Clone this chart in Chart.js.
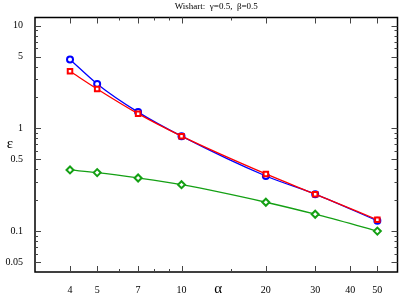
<!DOCTYPE html>
<html><head><meta charset="utf-8">
<script src="https://cdn.jsdelivr.net/npm/chart.js@4"></script>
<style>html,body{margin:0;padding:0;background:#fff;}canvas{display:block;}</style>
</head><body>
<canvas id="c" width="399" height="295"></canvas>
<script>
const alphaVals = [4, 5, 7, 10, 20, 30, 50];
const blueCircles = [4.68, 2.71, 1.44, 0.84, 0.344, 0.229, 0.126];
const redSquares = [3.6, 2.42, 1.39, 0.84, 0.36, 0.229, 0.129];
const greenDiamonds = [0.394, 0.371, 0.329, 0.283, 0.191, 0.146, 0.100];
const xMajorTicks = [4, 5, 7, 10, 20, 30, 40, 50];
const xMinorTicks = [6, 8, 9, 15];
const yMajorTicks = [0.05, 0.1, 0.5, 1, 5, 10];
const yMinorTicks = [0.06, 0.07, 0.08, 0.09, 0.2, 0.3, 0.4, 0.6, 0.7, 0.8, 0.9, 2, 3, 4, 6, 7, 8, 9];
const titleText = 'Wishart:  \u03b3=0.5,  \u03b2=0.5';

function pts(ys){ return alphaVals.map((x,i)=>({x:x,y:ys[i]})); }
const serif = '"Liberation Serif", "DejaVu Serif", serif';
const AREA_RIGHT = 397.5;

const frame = {
  id:'frame',
  afterLayout(chart){
    const a = chart.chartArea, xs = chart.scales.x;
    a.right = AREA_RIGHT; a.width = a.right - a.left;
    xs.right = AREA_RIGHT; xs.width = xs.right - xs.left;
    xs.configure();
  },
  afterDraw(chart){
    const ctx = chart.ctx, a = chart.chartArea;
    const xs = chart.scales.x, ys = chart.scales.y;
    ctx.save();
    ctx.strokeStyle = '#000'; ctx.lineWidth = 1.5;
    ctx.strokeRect(a.left, a.top, a.right-a.left, a.bottom-a.top);
    ctx.strokeStyle = '#444'; ctx.lineWidth = 1;
    const tick = (v, len, isX) => {
      if (isX) {
        const p = Math.round(xs.getPixelForValue(v)) + 0.5;
        ctx.beginPath(); ctx.moveTo(p, a.bottom); ctx.lineTo(p, a.bottom-len);
        ctx.moveTo(p, a.top); ctx.lineTo(p, a.top+len); ctx.stroke();
      } else {
        const p = Math.round(ys.getPixelForValue(v)) + 0.5;
        ctx.beginPath(); ctx.moveTo(a.left, p); ctx.lineTo(a.left+len, p);
        ctx.moveTo(a.right, p); ctx.lineTo(a.right-len, p); ctx.stroke();
      }
    };
    xMajorTicks.forEach(v=>tick(v,6,true));
    xMinorTicks.forEach(v=>tick(v,3,true));
    yMajorTicks.forEach(v=>tick(v,6,false));
    yMinorTicks.forEach(v=>tick(v,3,false));
    ctx.fillStyle = '#000';
    ctx.textAlign = 'center'; ctx.textBaseline = 'middle';
    ctx.font = '9px ' + serif;
    ctx.fillText(titleText, (a.left+a.right)/2, 7);
    ctx.font = '15px ' + serif;
    ctx.fillText('\u03b5', 10, 144);
    ctx.fillText('\u03b1', (a.left+a.right)/2 + 2, 289);
    ctx.restore();
  }
};

new Chart(document.getElementById('c'), {
  type:'line',
  data:{ datasets:[
    {label:'blue', order:1, data:pts(blueCircles), borderColor:'#0000ff', backgroundColor:'#ffffff',
     pointStyle:'circle', pointRadius:3, pointBorderWidth:2, borderWidth:1.3, cubicInterpolationMode:'monotone'},
    {label:'red', order:0, data:pts(redSquares), borderColor:'#ff0000', backgroundColor:'#ffffff',
     pointStyle:'rect', pointRadius:3.2, pointBorderWidth:2, borderWidth:1.3, cubicInterpolationMode:'monotone'},
    {label:'green', order:2, data:pts(greenDiamonds), borderColor:'#14a014', backgroundColor:'#ffffff',
     pointStyle:'rectRot', pointRadius:3.5, pointBorderWidth:2, borderWidth:1.3, cubicInterpolationMode:'monotone'}
  ]},
  options:{
    responsive:false, animation:false, devicePixelRatio:1,
    layout:{padding:{top:17.5, right:1.5, left:0, bottom:0}},
    plugins:{legend:{display:false}, tooltip:{enabled:false}, title:{display:false}},
    scales:{
      x:{type:'logarithmic', min:3, max:59,
        grid:{display:false}, border:{display:false},
        afterBuildTicks(s){ s.ticks = xMajorTicks.map(v=>({value:v})); },
        afterFit(s){ s.height = 23; s.paddingLeft = 0; s.paddingRight = 0; },
        ticks:{autoSkip:false, maxRotation:0, padding:4, color:'#000',
          font:{family:serif, size:10}, callback:(v)=>String(v)}
      },
      y:{type:'logarithmic', min:0.04, max:12,
        grid:{display:false}, border:{display:false},
        afterBuildTicks(s){ s.ticks = yMajorTicks.map(v=>({value:v})); },
        afterFit(s){ s.width = 35; s.paddingTop = 0; s.paddingBottom = 0; },
        ticks:{autoSkip:false, padding:4, color:'#000',
          font:{family:serif, size:10}, callback:(v)=>String(v)}
      }
    }
  },
  plugins:[frame]
});
</script>
</body></html>
